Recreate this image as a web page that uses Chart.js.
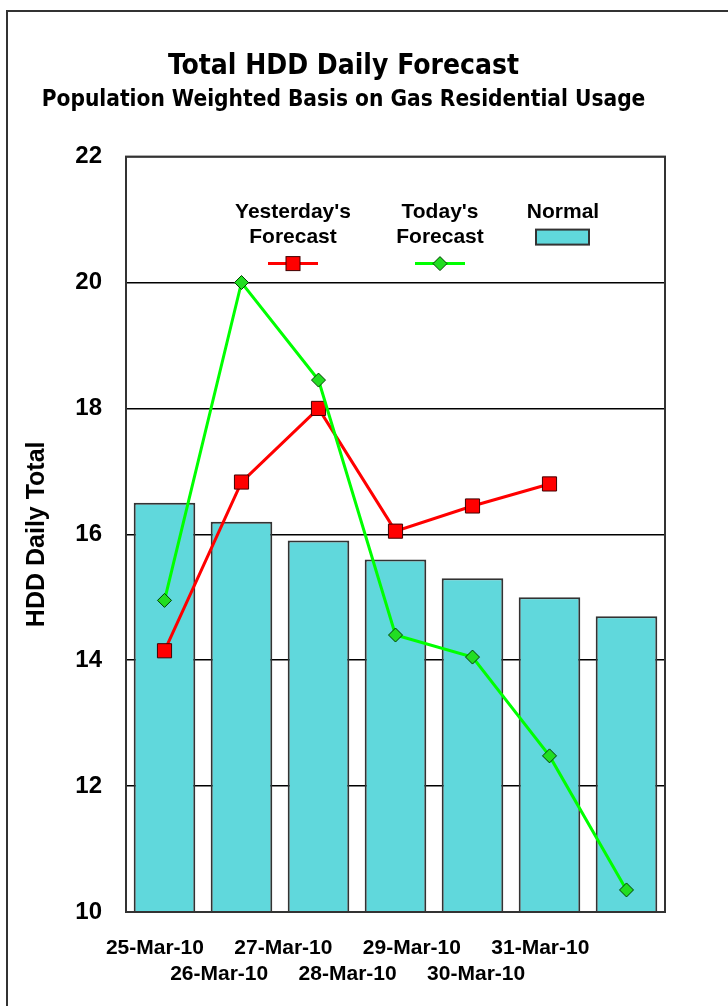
<!DOCTYPE html>
<html lang="en">
<head>
  <meta charset="UTF-8" />
  <title>Total HDD Daily Forecast</title>
  <script src="https://cdn.jsdelivr.net/npm/chart.js"></script>
  <style>
    body { margin: 0; background: #fff; }
    #wrap { position: relative; width: 728px; height: 1006px; overflow: hidden; }
    #frame { position: absolute; left: 6px; top: 10px; width: 760px; height: 1040px; border: 2px solid #333; box-sizing: border-box; }
    canvas { position: absolute; left: 0; top: 0; }
  </style>
</head>
<body>
  <div id="wrap">
    <div id="frame"></div>
    <canvas id="hddChart" width="728" height="1006"></canvas>
  </div>

  <script>
    // chart data
    const dates = ["25-Mar-10", "26-Mar-10", "27-Mar-10", "28-Mar-10", "29-Mar-10", "30-Mar-10", "31-Mar-10"];
    const yesterdayForecast = [14.15, 16.83, 18.0, 16.05, 16.45, 16.8, null];
    const todayForecast = [14.95, 20.0, 18.45, 14.4, 14.05, 12.48, 10.35];
    const normal = [16.5, 16.2, 15.9, 15.6, 15.3, 15.0, 14.7];
    const yTicks = [10, 12, 14, 16, 18, 20, 22];

    const tickFont = { family: "'Liberation Sans', Arial, sans-serif", weight: 'bold', size: 21 };

    // legend drawn inside the plot, like the original
    const insideLegend = {
      id: 'insideLegend',
      afterDatasetsDraw(chart) {
        const ctx = chart.ctx;
        const a = chart.chartArea;
        const ds = chart.data.datasets;
        ctx.save();
        ctx.font = "bold 21px 'Liberation Sans', Arial, sans-serif";
        ctx.fillStyle = '#000';
        ctx.textAlign = 'center';
        ctx.textBaseline = 'middle';

        const items = [
          { ds: ds[0], cx: a.left + 167, lines: ["Yesterday's", "Forecast"] },
          { ds: ds[1], cx: a.left + 314, lines: ["Today's", "Forecast"] },
        ];
        items.forEach(it => {
          ctx.fillText(it.lines[0], it.cx, a.top + 56);
          ctx.fillText(it.lines[1], it.cx, a.top + 81);
          const my = a.top + 107;
          ctx.strokeStyle = it.ds.borderColor;
          ctx.lineWidth = 3;
          ctx.beginPath();
          ctx.moveTo(it.cx - 25, my);
          ctx.lineTo(it.cx + 25, my);
          ctx.stroke();
          ctx.fillStyle = it.ds.pointBackgroundColor;
          ctx.strokeStyle = it.ds.pointBorderColor;
          ctx.lineWidth = 1;
          if (it.ds.pointStyle === 'rect') {
            ctx.fillRect(it.cx - 7, my - 7, 14, 14);
            ctx.strokeRect(it.cx - 7, my - 7, 14, 14);
          } else {
            ctx.beginPath();
            ctx.moveTo(it.cx, my - 7);
            ctx.lineTo(it.cx + 7, my);
            ctx.lineTo(it.cx, my + 7);
            ctx.lineTo(it.cx - 7, my);
            ctx.closePath();
            ctx.fill();
            ctx.stroke();
          }
          ctx.fillStyle = '#000';
        });

        // Normal
        const nx = a.left + 437;
        ctx.fillText('Normal', nx, a.top + 56);
        ctx.fillStyle = ds[2].backgroundColor;
        ctx.strokeStyle = ds[2].borderColor;
        ctx.lineWidth = 2;
        ctx.fillRect(nx - 27, a.top + 73, 53, 15);
        ctx.strokeRect(nx - 27, a.top + 73, 53, 15);
        ctx.restore();
      },
      afterDraw(chart) {
        const a = chart.chartArea;
        const ctx = chart.ctx;
        ctx.save();
        ctx.strokeStyle = '#333';
        ctx.lineWidth = 2;
        ctx.strokeRect(a.left, a.top, a.right - a.left, a.bottom - a.top);
        ctx.restore();
      }
    };

    new Chart(document.getElementById('hddChart'), {
      type: 'bar',
      data: {
        labels: dates,
        datasets: [
          {
            type: 'line',
            label: "Yesterday's Forecast",
            data: yesterdayForecast,
            borderColor: '#ff0000',
            borderWidth: 3,
            pointStyle: 'rect',
            pointRadius: 10,
            pointBackgroundColor: '#ff0000',
            pointBorderColor: '#400000',
            pointBorderWidth: 1,
            tension: 0,
            order: 1
          },
          {
            type: 'line',
            label: "Today's Forecast",
            data: todayForecast,
            borderColor: '#00ff00',
            borderWidth: 3,
            pointStyle: 'rectRot',
            pointRadius: 7,
            pointBackgroundColor: '#22dd22',
            pointBorderColor: '#004000',
            pointBorderWidth: 1,
            tension: 0,
            order: 0
          },
          {
            label: 'Normal',
            data: normal,
            backgroundColor: '#60d8dc',
            borderColor: '#333333',
            borderWidth: 2,
            borderSkipped: false,
            categoryPercentage: 0.8,
            barPercentage: 1.0,
            order: 2
          }
        ]
      },
      options: {
        responsive: false,
        animation: false,
        layout: { padding: { top: 50, left: 22, right: 63, bottom: 0 } },
        plugins: {
          legend: { display: false },
          tooltip: { enabled: false },
          title: {
            display: true,
            text: 'Total HDD Daily Forecast',
            color: '#000',
            font: { family: "'Liberation Sans Narrow', 'DejaVu Sans Condensed', sans-serif", weight: 'bold', size: 28 },
            padding: { top: 0, bottom: 3 }
          },
          subtitle: {
            display: true,
            text: 'Population Weighted Basis on Gas Residential Usage',
            color: '#000',
            font: { family: "'Liberation Sans Narrow', 'DejaVu Sans Condensed', sans-serif", weight: 'bold', size: 22.5 },
            padding: { top: 0, bottom: 43 }
          }
        },
        scales: {
          x: {
            afterFit(scale) { scale.height = 0; },
            grid: { display: false, drawTicks: false },
            border: { display: false },
            ticks: { display: false }
          },
          // the original's date labels sit on a tighter pitch than the bars
          xLabels: {
            type: 'linear',
            position: 'bottom',
            offset: false,
            min: -0.45,
            max: 7.94,
            afterBuildTicks(scale) {
              scale.ticks = dates.map((d, i) => ({ value: i }));
            },
            afterFit(scale) { scale.height = 94; },
            grid: { display: false, drawTicks: false, offset: false },
            border: { display: false },
            ticks: {
              color: '#000',
              font: tickFont,
              padding: 24,
              maxRotation: 0,
              autoSkip: false,
              callback(value) {
                const lbl = dates[value];
                return value % 2 === 0 ? lbl : ['', lbl];
              }
            }
          },
          y: {
            min: yTicks[0],
            max: yTicks[yTicks.length - 1],
            afterBuildTicks(scale) {
              scale.ticks = yTicks.map(v => ({ value: v }));
            },
            afterFit(scale) { scale.width = 104; },
            grid: { color: '#000', lineWidth: 1.5, drawTicks: false },
            border: { display: false },
            ticks: { color: '#000', font: { ...tickFont, size: 24 }, padding: 24 },
            title: {
              display: true,
              text: 'HDD Daily Total',
              color: '#000',
              font: { family: "'Liberation Sans', Arial, sans-serif", weight: 'bold', size: 25 },
              padding: 0
            }
          }
        }
      },
      plugins: [insideLegend]
    });
  </script>
</body>
</html>
